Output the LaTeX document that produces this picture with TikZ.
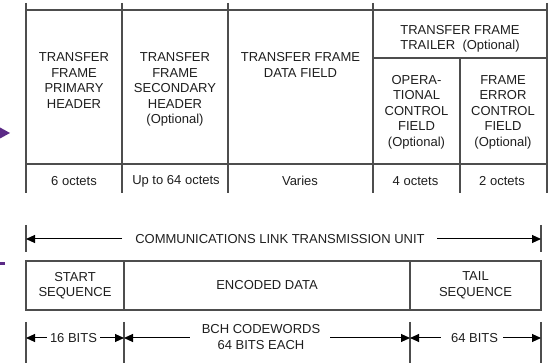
\documentclass[tikz,border=0pt]{standalone}
\usepackage{fontspec}
\setmainfont{Liberation Sans}
\usetikzlibrary{arrows.meta}
\definecolor{rulegray}{HTML}{4D4D4D}
\definecolor{inkgray}{HTML}{1E1E1E}
\definecolor{edgepurple}{HTML}{5B2A86}
\tikzset{
  grid/.style={draw=rulegray, line width=1.35pt},
  lbl/.style={font=\fontsize{13}{15.5}\selectfont, text=inkgray, align=center, inner sep=0pt},
  toplbl/.style={lbl, anchor=north},
  dim/.style={draw=black, line width=1pt, -{Triangle[length=9pt,width=8pt]}},
}
\begin{document}
\begin{tikzpicture}[x=1pt,y=-1pt]
\useasboundingbox (0,0) rectangle (557,363);

% ---- transfer frame table ----
\draw[grid] (26,10) -- (547,10);
\draw[grid] (373,58) -- (547,58);
\draw[grid] (26,164) -- (547,164);
\foreach \x in {26,122,228,373,547} \draw[grid] (\x,3) -- (\x,193);
\draw[grid] (460,58) -- (460,193);

\node[toplbl] (ph) at (74,52.5) {TRANSFER\\FRAME\\PRIMARY\\HEADER};
\node[toplbl] (sh) at (175,52.5) {TRANSFER\\FRAME\\SECONDARY\\HEADER\\(Optional)};
\node[toplbl] (df) at (300.5,52.5) {TRANSFER FRAME\\DATA FIELD};
\node[toplbl] (tr) at (460,25) {TRANSFER FRAME\\TRAILER\ \ (Optional)};
\node[toplbl] (oc) at (416.5,75) {OPERA-\\TIONAL\\CONTROL\\FIELD\\(Optional)};
\node[toplbl] (ec) at (503,75) {FRAME\\ERROR\\CONTROL\\FIELD\\(Optional)};

\node[lbl] (s1) at (74,181) {6 octets};
\node[lbl] (s2) at (176,181) {Up to 64 octets};
\node[lbl] (s3) at (300,181) {Varies};
\node[lbl] (s4) at (415.5,181) {4 octets};
\node[lbl] (s5) at (502,181) {2 octets};

% ---- transmission unit ----
\coordinate (bl) at (26,239);
\coordinate (br) at (541,239);
\coordinate (al) at (122,239);
\coordinate (ar) at (437,239);
\draw[grid] (26,225) -- (26,252);
\draw[grid] (541,225) -- (541,252);
\node[lbl] (cltu) at (280,239.5) {COMMUNICATIONS LINK TRANSMISSION UNIT};
\draw[dim] (al) -- (bl);
\draw[dim] (ar) -- (br);

\draw[grid] (26,261) rectangle (541,310);
\draw[grid] (124,261) -- (124,310);
\draw[grid] (410,261) -- (410,310);
\node[lbl] (ss) at (75,285.5) {START\\SEQUENCE};
\node[lbl] (ed) at (267,285.5) {ENCODED DATA};
\node[lbl] (ts) at (475.5,285.5) {TAIL\\SEQUENCE};

% ---- bit lengths ----
\foreach \x in {26,124,410,541} \draw[grid] (\x,322) -- (\x,363);
\coordinate (d1) at (26,338);
\coordinate (d2) at (124,338);
\coordinate (d3) at (410,338);
\coordinate (d4) at (541,338);
\node[lbl] (b16) at (73.5,338) {16 BITS};
\node[lbl] (bch) at (261,337) {BCH CODEWORDS\\64 BITS EACH};
\node[lbl] (b64) at (474.5,338) {64 BITS};
\draw[dim] (b16.west) ++(-3,0) -- (d1);
\draw[dim] (b16.east) ++(3,0) -- (d2);
\draw[dim] (bch.west) ++(-12,1) -- (d2);
\draw[dim] (bch.east) ++(10,1) -- (d3);
\draw[dim] (b64.west) ++(-10,0) -- (d3);
\draw[dim] (b64.east) ++(5,0) -- (d4);

% ---- marks at the left edge ----
\fill[edgepurple] (0,127.5) -- (10,133) -- (0,138.5) -- cycle;
\fill[edgepurple] (0,262) rectangle (5,265.5);
\end{tikzpicture}
\end{document}
